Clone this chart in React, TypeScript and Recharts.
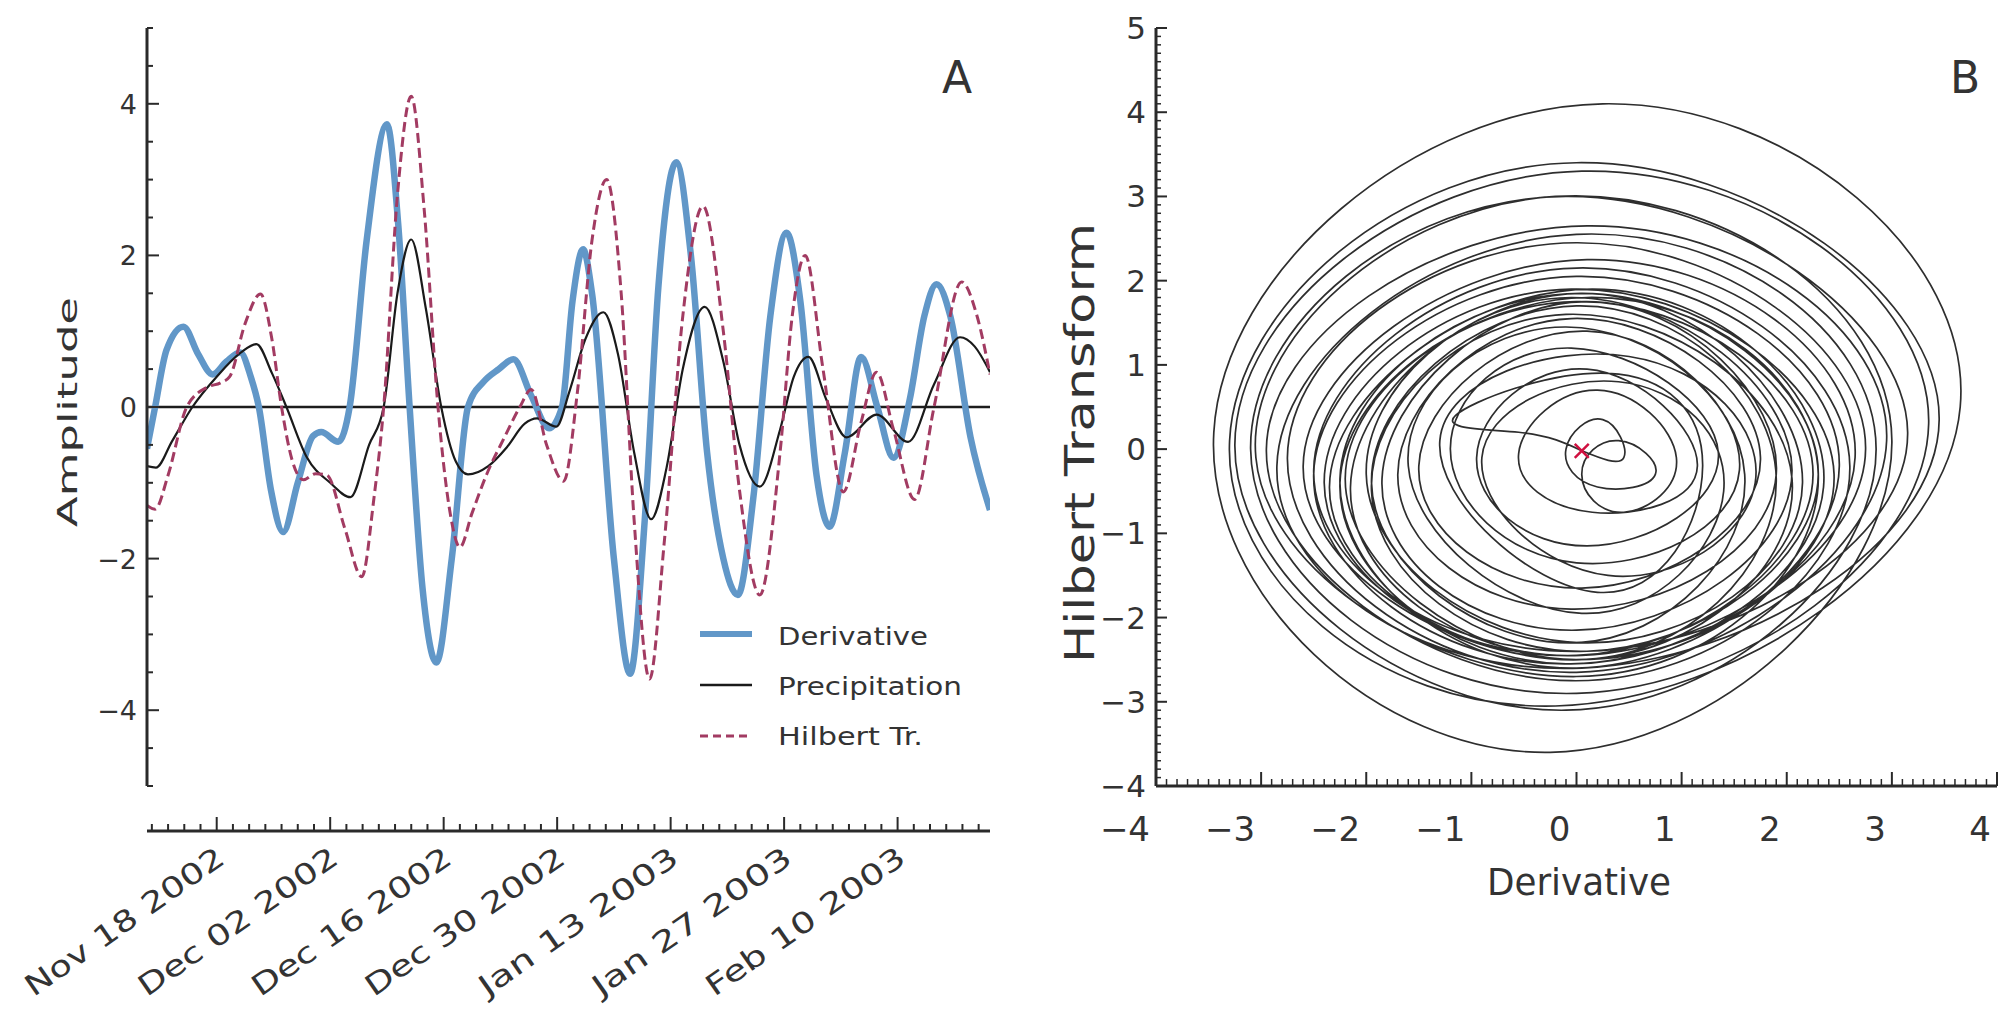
import React from 'react';
import { LineChart, ComposedChart, Line, Scatter, XAxis, YAxis, ReferenceLine } from 'recharts';

const FONT = '"DejaVu Sans", Verdana, sans-serif';
const INK = '#2a2a2a';
const TEXT = '#333';

// ---- Panel A: days counted from Nov 18 2002, amplitude ----
const dateLabels = ['Nov 18 2002', 'Dec 02 2002', 'Dec 16 2002', 'Dec 30 2002', 'Jan 13 2003', 'Jan 27 2003', 'Feb 10 2003'];
const dateTickDays = [0, 14, 28, 42, 56, 70, 84];

const derivative: [number, number][] = [
  [-8.6, -0.55], [-7.6, 0], [-6.2, 0.75], [-4.1, 1.06], [-2.3, 0.7], [-0.5, 0.43], [1.2, 0.6], [2.9, 0.72],
  [4.2, 0.4], [5.2, 0], [6.7, -1.1], [8.2, -1.65], [10, -1.0], [11.9, -0.38], [12.9, -0.33], [15.0, -0.46],
  [16.4, 0], [18.5, 2.2], [21.0, 3.73], [22.4, 2.4], [23.8, 0], [25.4, -2.4], [27.1, -3.37], [29, -2.0],
  [31.0, 0], [32.9, 0.33], [34.8, 0.5], [36.6, 0.63], [38.8, 0.15], [41.0, -0.28], [42.6, 0], [43.9, 1.4],
  [45.2, 2.08], [46.3, 1.5], [49, -2.0], [51.0, -3.52], [52.8, -1.5], [54.5, 1.6], [56.7, 3.23], [58.5, 2.0],
  [60.5, -0.6], [62.5, -2.0], [64.3, -2.48], [66.2, -1.2], [68.3, 1.2], [70.3, 2.3], [72, 1.4], [74, -0.9],
  [75.6, -1.58], [77.5, -0.6], [79.5, 0.66], [81.5, 0.0], [83.5, -0.67], [85.5, 0.1], [87.3, 1.2], [88.8, 1.62],
  [90.5, 1.2], [93, -0.4], [95.4, -1.36],
];

const precipitation: [number, number][] = [
  [-8.6, -0.78], [-7.5, -0.8], [-5.5, -0.45], [-3, 0], [0, 0.4], [3, 0.72], [4.9, 0.83], [6.8, 0.45],
  [8.6, 0], [11.1, -0.66], [14, -1.0], [16.5, -1.19], [18.8, -0.5], [20.6, 0], [22.3, 1.5], [24.0, 2.21],
  [25.8, 1.3], [27.7, 0], [29.5, -0.72], [31.0, -0.89], [33.5, -0.78], [35.8, -0.53], [38, -0.22], [39.5, -0.15],
  [41.9, -0.26], [43.5, 0.2], [45.5, 0.9], [47.7, 1.25], [49.5, 0.7], [51.5, -0.6], [53.6, -1.48], [55.5, -0.8],
  [57.5, 0.5], [60.2, 1.32], [62.5, 0.6], [64.5, -0.5], [67.0, -1.05], [69.5, -0.3], [71.2, 0.4], [73.0, 0.66],
  [75.2, 0.1], [77.7, -0.4], [81.4, -0.1], [85.3, -0.46], [88.5, 0.3], [91.7, 0.92], [93.5, 0.8], [95.4, 0.46],
];

const hilbert: [number, number][] = [
  [-8.6, -1.3], [-7.6, -1.35], [-6, -0.9], [-3.7, 0], [-1.2, 0.26], [0.5, 0.32], [1.6, 0.4], [3.5, 1.1],
  [5.4, 1.49], [6.8, 0.9], [8.0, 0], [9.3, -0.7], [10.7, -0.96], [12.2, -0.88], [13.6, -0.9], [15.8, -1.6],
  [17.9, -2.24], [19.4, -1.2], [20.6, 0], [22.3, 2.8], [24.0, 4.1], [25.6, 2.6], [27.3, 0], [28.8, -1.4],
  [30.0, -1.85], [31.5, -1.4], [33.3, -0.89], [35.5, -0.4], [37.4, 0], [38.8, 0.23], [40.7, -0.5], [42.8, -0.98],
  [44.5, 0.2], [46.3, 2.2], [48.1, 3.0], [49.9, 1.5], [51.5, -1.5], [53.4, -3.59], [55.2, -1.8], [57.5, 1.2],
  [60.0, 2.65], [62.5, 1.0], [64.5, -1.1], [67.0, -2.48], [69.5, -0.6], [71.0, 1.2], [72.6, 2.0], [74.8, 0.5],
  [77.3, -1.12], [79.5, -0.2], [81.4, 0.46], [83.5, -0.3], [86.1, -1.22], [88.5, 0.0], [91.9, 1.65], [93.8, 1.2],
  [95.4, 0.43],
];

// ---- Panel B: derivative (x) against Hilbert transform (y) ----
const phase: [number, number][] = [
  [0.05, -0.02],
  [0.45, -0.1], [0.25, 0.35], [-0.1, 0.0], [0.2, -0.45],
  [0.75, -0.3], [0.4, 0.1], [0.05, -0.3], [0.45, -0.75],
  [0.95, -0.1], [0.2, 0.7], [-0.55, -0.05], [0.15, -0.75],
  [1.15, -0.2], [0.1, 0.95], [-0.95, -0.1], [0.1, -1.15],
  [1.35, -0.05], [-0.05, 1.2], [-1.2, 0.0], [0.0, -1.35],
  [1.55, -0.25], [0.1, 1.4], [-1.5, -0.2], [0.05, -1.65],
  [1.75, -0.1], [-0.05, 1.55], [-1.7, -0.3], [-0.05, -1.9],
  [1.9, -0.3], [0.1, 1.75], [-1.85, -0.35], [0.0, -2.15],
  [2.05, -0.25], [-0.05, 1.8], [-2.0, -0.3], [0.05, -2.3],
  [2.15, -0.4], [0.05, 1.85], [-2.15, -0.45], [0.0, -2.45],
  [2.25, -0.3], [0.0, 1.75], [-2.25, -0.4], [-0.1, -2.55],
  [2.35, -0.45], [0.15, 1.9], [-2.35, -0.45], [0.05, -2.5],
  [2.05, -0.35], [-0.1, 1.6], [-1.95, -0.5], [0.1, -2.4],
  [2.3, -0.3], [0.05, 1.85], [-2.25, -0.35], [0.0, -2.6],
  [2.5, -0.2], [0.0, 2.05], [-2.5, -0.3], [-0.05, -2.55],
  [2.65, -0.1], [0.1, 2.25], [-2.6, -0.2], [0.0, -2.5],
  [2.45, -0.3], [-0.05, 1.9], [-2.4, -0.4], [0.05, -2.45],
  [2.75, 0.0], [0.0, 2.45], [-2.75, -0.1], [0.0, -2.65],
  [2.95, 0.1], [0.1, 2.65], [-2.95, 0.0], [-0.05, -2.75],
  [2.6, -0.2], [0.0, 2.15], [-2.5, -0.25], [0.1, -2.4],
  [3.15, 0.2], [-0.1, 3.0], [-3.1, 0.0], [0.0, -2.9],
  [3.35, 0.3], [0.05, 3.3], [-3.25, 0.05], [-0.1, -3.1],
  [2.85, 0.0], [0.0, 2.55], [-2.85, -0.2], [0.05, -2.6],
  [3.45, 0.35], [0.0, 3.4], [-3.3, 0.1], [-0.2, -3.05],
  [3.65, 0.5], [0.25, 4.1], [-3.45, 0.2], [-0.25, -3.6],
  [3.0, 0.1], [-0.2, 3.0], [-3.05, -0.1], [0.0, -2.7],
  [2.3, -0.3], [0.1, 1.8], [-2.2, -0.35], [0.0, -2.5],
  [1.9, -0.35], [0.0, 1.7], [-1.95, -0.4], [0.0, -2.3],
  [1.6, -0.3], [-0.1, 1.45], [-1.6, -0.2], [0.05, -1.95],
  [1.4, -0.5], [0.4, 0.8], [-0.9, -0.1], [0.3, -1.5],
  [1.7, -0.4], [0.5, 1.1], [-1.3, 0.1], [0.2, -1.7],
  [1.2, -0.2], [0.3, 0.9], [-1.15, 0.4], [-0.55, 0.2], [0.05, -0.02],
];
const startPoint: [number, number][] = [[0.05, -0.02]];

// layout (px)
const A_LEFT = 147;
const A_RIGHT = 990;
const A_XAXIS_Y = 831;

const toRows = (pts: [number, number][]) => pts.map(([d, v]) => ({ d, v }));
const toXY = (pts: [number, number][]) => pts.map(([x, y]) => ({ x, y }));
const fmt = (v: number) => (v < 0 ? '\u2212' + Math.abs(v) : String(v));
const isWhole = (v: number) => Math.abs(v - Math.round(v)) < 1e-6;

const evenDays = Array.from({ length: 52 }, (_, i) => -8 + 2 * i);
const halfSteps = Array.from({ length: 21 }, (_, i) => -5 + i * 0.5);
const tenthsX = Array.from({ length: 81 }, (_, i) => Math.round((-4 + i * 0.1) * 10) / 10);
const tenthsY = Array.from({ length: 91 }, (_, i) => Math.round((-4 + i * 0.1) * 10) / 10);

function DateTick(props: any) {
  const { x, payload, index } = props;
  const k = dateTickDays.indexOf(payload.value);
  const major = k >= 0;
  const ax = x + 10;
  const ay = 862;
  return (
    <g>
      {index === 0 && (
        <line x1={A_LEFT} x2={A_RIGHT} y1={A_XAXIS_Y} y2={A_XAXIS_Y} stroke={INK} strokeWidth={3} />
      )}
      <line x1={x} x2={x} y1={A_XAXIS_Y} y2={A_XAXIS_Y - (major ? 14 : 7)} stroke={INK} strokeWidth={2} />
      {major && (
        <text x={ax} y={ay} textAnchor="end" fontSize={29} fill={TEXT} fontFamily={FONT}
          textLength={236} lengthAdjust="spacingAndGlyphs" transform={`rotate(-35 ${ax} ${ay})`}>
          {dateLabels[k]}
        </text>
      )}
    </g>
  );
}

function AmpTick(props: any) {
  const { x, y, payload } = props;
  const v = payload.value;
  const major = isWhole(v / 2);
  return (
    <g>
      <line x1={x} x2={x + (major ? 12 : 6)} y1={y} y2={y} stroke={INK} strokeWidth={2} />
      {major && (
        <text x={x - 10} y={y + 10} textAnchor="end" fontSize={27} fill={TEXT} fontFamily={FONT}>
          {fmt(v)}
        </text>
      )}
    </g>
  );
}

function PhaseXTick(props: any) {
  const { x, y, payload } = props;
  const v = payload.value;
  const major = isWhole(v);
  return (
    <g>
      <line x1={x} x2={x} y1={y} y2={y - (major ? 14 : 7)} stroke={INK} strokeWidth={major ? 2 : 1.5} />
      {major && (
        <text x={x - 6} y={y + 55} textAnchor="end" fontSize={34} fill={TEXT} fontFamily={FONT}>
          {fmt(v)}
        </text>
      )}
    </g>
  );
}

function PhaseYTick(props: any) {
  const { x, y, payload } = props;
  const v = payload.value;
  const major = isWhole(v);
  return (
    <g>
      <line x1={x} x2={x + (major ? 11 : 5)} y1={y} y2={y} stroke={INK} strokeWidth={major ? 2 : 1.5} />
      {major && (
        <text x={x - 10} y={y + 11} textAnchor="end" fontSize={31} fill={TEXT} fontFamily={FONT}>
          {fmt(v)}
        </text>
      )}
    </g>
  );
}

const XMark = (p: any) => (
  <g stroke="#d01040" strokeWidth={2.5}>
    <line x1={p.cx - 7} y1={p.cy - 7} x2={p.cx + 7} y2={p.cy + 7} />
    <line x1={p.cx - 7} y1={p.cy + 7} x2={p.cx + 7} y2={p.cy - 7} />
  </g>
);

const legendItems = [
  { name: 'Derivative', color: '#6197c8', width: 6, dash: undefined, len: 150 },
  { name: 'Precipitation', color: '#1a1a1a', width: 2.5, dash: undefined, len: 184 },
  { name: 'Hilbert Tr.', color: '#a23b62', width: 3, dash: '8 5', len: 145 },
];

export default function App() {
  return (
    <div style={{ position: 'absolute', left: 0, top: 0, width: 1998, height: 1011, background: '#fff', fontFamily: FONT }}>
      <div style={{ position: 'absolute', left: 0, top: 0 }}>
        <LineChart width={1000} height={1011} margin={{ top: 28, right: 10, bottom: 195, left: 87 }}>
          <XAxis type="number" dataKey="d" domain={[-8.6, 95.4]} allowDataOverflow ticks={evenDays} interval={0}
            height={30} tickSize={0} tickMargin={0} tickLine={false} axisLine={false}
            tick={(p: any) => <DateTick {...p} />} />
          <YAxis type="number" domain={[-5, 5]} ticks={halfSteps} interval={0} width={60}
            tickSize={0} tickMargin={0} tickLine={false} axisLine={{ stroke: INK, strokeWidth: 3 }}
            tick={(p: any) => <AmpTick {...p} />} />
          <ReferenceLine y={0} stroke="#1d1d1d" strokeWidth={2.5} />
          <Line data={toRows(derivative)} dataKey="v" type="monotone" stroke="#6197c8" strokeWidth={6.5}
            dot={false} isAnimationActive={false} />
          <Line data={toRows(precipitation)} dataKey="v" type="monotone" stroke="#1a1a1a" strokeWidth={2.2}
            dot={false} isAnimationActive={false} />
          <Line data={toRows(hilbert)} dataKey="v" type="monotone" stroke="#a23b62" strokeWidth={3}
            strokeDasharray="10 5" dot={false} isAnimationActive={false} />
        </LineChart>
      </div>

      <div style={{ position: 'absolute', left: 1000, top: 0 }}>
        <ComposedChart width={998} height={1011} margin={{ top: 28, right: 1, bottom: 195, left: 96 }}>
          <XAxis type="number" dataKey="x" domain={[-4, 4]} allowDataOverflow ticks={tenthsX} interval={0}
            height={30} tickSize={0} tickMargin={0} tickLine={false} axisLine={{ stroke: INK, strokeWidth: 3 }}
            tick={(p: any) => <PhaseXTick {...p} />} />
          <YAxis type="number" dataKey="y" domain={[-4, 5]} allowDataOverflow ticks={tenthsY} interval={0} width={60}
            tickSize={0} tickMargin={0} tickLine={false} axisLine={{ stroke: INK, strokeWidth: 3 }}
            tick={(p: any) => <PhaseYTick {...p} />} />
          <Line data={toXY(phase)} dataKey="y" type="natural" stroke="#2e2e2e" strokeWidth={1.7}
            dot={false} isAnimationActive={false} />
          <Scatter data={toXY(startPoint)} dataKey="y" shape={XMark} isAnimationActive={false} />
        </ComposedChart>
      </div>

      <svg width={1998} height={1011} style={{ position: 'absolute', left: 0, top: 0, pointerEvents: 'none' }}
        fontFamily={FONT} fill={TEXT}>
        <text x={77} y={412} textAnchor="middle" fontSize={27} textLength={230} lengthAdjust="spacingAndGlyphs"
          transform="rotate(-90 77 412)">Amplitude</text>
        <text x={957} y={93} textAnchor="middle" fontSize={44}>A</text>
        <text x={1965} y={93} textAnchor="middle" fontSize={44}>B</text>
        {legendItems.map((it, i) => (
          <g key={it.name}>
            <line x1={700} x2={752} y1={634 + i * 51} y2={634 + i * 51} stroke={it.color}
              strokeWidth={it.width} strokeDasharray={it.dash} />
            <text x={778} y={645 + i * 50} fontSize={25} textLength={it.len} lengthAdjust="spacingAndGlyphs">
              {it.name}
            </text>
          </g>
        ))}
        <text x={1094} y={443} textAnchor="middle" fontSize={40} textLength={440} lengthAdjust="spacingAndGlyphs"
          transform="rotate(-90 1094 443)">Hilbert Transform</text>
        <text x={1579} y={895} textAnchor="middle" fontSize={38} textLength={184}
          lengthAdjust="spacingAndGlyphs">Derivative</text>
      </svg>
    </div>
  );
}
